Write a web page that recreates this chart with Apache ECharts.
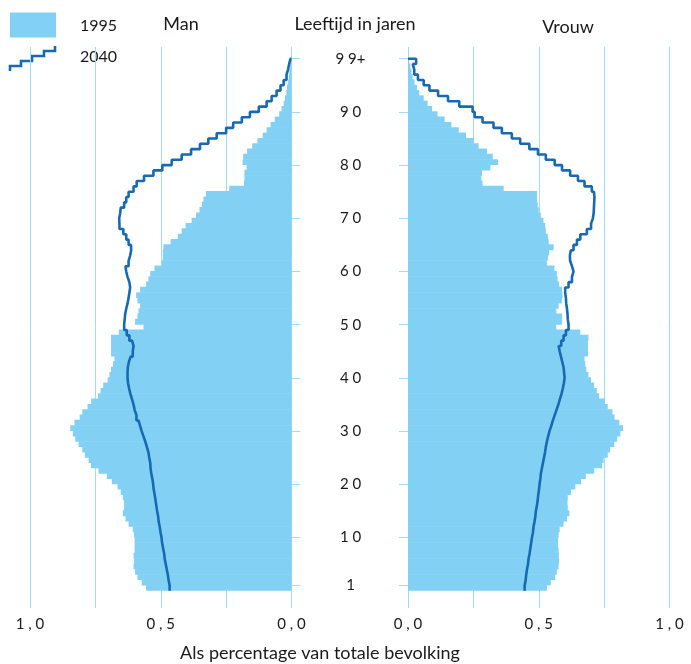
<!DOCTYPE html>
<html>
<head>
<meta charset="utf-8">
<script src="https://cdn.jsdelivr.net/npm/echarts@6/dist/echarts.min.js"></script>
<style>
html,body{margin:0;padding:0;background:#fff;}
#chart{width:691px;height:664px;}
</style>
</head>
<body>
<div id="chart"></div>
<script>
// Ages 0..99 (99 = 99+)
const ages = Array.from({length: 100}, (_, i) => i);

// Share of total population (%) per age, men, 1995
const man1995 = [
0.556,0.573,0.589,0.598,0.604,0.602,0.604,0.600,0.600,0.600,
0.602,0.607,0.623,0.635,0.645,0.640,0.640,0.645,0.653,0.665,
0.687,0.706,0.738,0.767,0.776,0.790,0.800,0.814,0.827,0.836,
0.846,0.830,0.810,0.800,0.780,0.766,0.740,0.730,0.720,0.703,
0.696,0.690,0.683,0.677,0.690,0.690,0.690,0.690,0.660,0.566,
0.598,0.589,0.585,0.579,0.589,0.594,0.579,0.556,0.547,0.540,
0.524,0.496,0.492,0.492,0.490,0.462,0.435,0.420,0.405,0.382,
0.365,0.352,0.343,0.337,0.327,0.238,0.182,0.180,0.180,0.172,
0.187,0.185,0.170,0.150,0.130,0.110,0.095,0.080,0.064,0.047,
0.038,0.030,0.025,0.020,0.017,0.013,0.010,0.008,0.005,0.003];

// men, 2040
const man2040 = [
0.466,0.470,0.473,0.477,0.481,0.485,0.487,0.491,0.495,0.497,
0.501,0.504,0.508,0.510,0.514,0.517,0.520,0.523,0.527,0.529,
0.532,0.536,0.539,0.540,0.544,0.547,0.553,0.559,0.566,0.573,
0.579,0.585,0.593,0.600,0.604,0.610,0.616,0.621,0.625,0.627,
0.627,0.626,0.622,0.615,0.607,0.604,0.610,0.620,0.630,0.640,
0.638,0.636,0.632,0.627,0.623,0.620,0.617,0.620,0.627,0.632,
0.635,0.623,0.617,0.613,0.614,0.623,0.632,0.643,0.658,0.659,
0.655,0.653,0.640,0.632,0.623,0.604,0.592,0.564,0.528,0.494,
0.458,0.420,0.384,0.350,0.318,0.286,0.250,0.223,0.190,0.159,
0.125,0.095,0.076,0.057,0.042,0.030,0.019,0.013,0.009,0.004];

// women, 1995
const vrouw1995 = [
0.531,0.546,0.563,0.569,0.576,0.578,0.577,0.576,0.574,0.574,
0.576,0.580,0.595,0.608,0.617,0.611,0.610,0.611,0.623,0.640,
0.662,0.680,0.712,0.742,0.748,0.764,0.773,0.789,0.800,0.812,
0.822,0.808,0.790,0.782,0.764,0.752,0.731,0.722,0.712,0.700,
0.690,0.682,0.678,0.675,0.688,0.688,0.688,0.690,0.659,0.567,
0.589,0.589,0.567,0.576,0.589,0.591,0.589,0.578,0.572,0.569,
0.560,0.531,0.535,0.540,0.557,0.538,0.535,0.527,0.525,0.518,
0.508,0.500,0.496,0.493,0.493,0.366,0.285,0.280,0.283,0.315,
0.344,0.324,0.302,0.270,0.251,0.222,0.194,0.166,0.140,0.113,
0.092,0.075,0.060,0.043,0.034,0.025,0.018,0.013,0.009,0.005];

// women, 2040
const vrouw2040 = [
0.446,0.450,0.452,0.455,0.459,0.461,0.465,0.468,0.471,0.474,
0.478,0.480,0.484,0.487,0.489,0.493,0.496,0.498,0.501,0.503,
0.506,0.508,0.512,0.516,0.520,0.524,0.527,0.531,0.536,0.541,
0.548,0.554,0.561,0.568,0.575,0.581,0.587,0.592,0.596,0.599,
0.597,0.595,0.590,0.585,0.580,0.576,0.586,0.595,0.604,0.614,
0.611,0.610,0.608,0.605,0.604,0.601,0.601,0.614,0.627,0.633,
0.627,0.620,0.619,0.623,0.633,0.646,0.659,0.684,0.700,0.707,
0.710,0.711,0.712,0.713,0.711,0.703,0.675,0.650,0.620,0.589,
0.561,0.527,0.497,0.464,0.429,0.397,0.359,0.327,0.285,0.255,
0.247,0.196,0.153,0.115,0.082,0.060,0.038,0.024,0.018,0.031];

// Axis ticks / labels
const ageTickValues = [1, 10, 20, 30, 40, 50, 60, 70, 80, 90, 100];
const ageTickLabels = {1:'1',10:'1 0',20:'2 0',30:'3 0',40:'4 0',50:'5 0',60:'6 0',70:'7 0',80:'8 0',90:'9 0',100:'9 9+'};
const pctLabels = {0:'0 , 0', 0.5:'0 , 5', 1:'1 , 0'};

const FILL = '#83d0f5';
const LINE = '#1769b1';
const GRIDC = '#a6dbf4';
const TXT = '#1a1a1a';
const FONT = 'Lato, "Open Sans", sans-serif';

function barData(vals) { return ages.map(a => [vals[a], a]); }
function stepData(vals) {
  const pts = [];
  ages.forEach(a => { pts.push([vals[a], a]); pts.push([vals[a], a + 1]); });
  pts.push([0, ages.length]);
  return pts;
}
function renderBar(params, api) {
  const v = api.value(0), a = api.value(1);
  const p0 = api.coord([0, a]);
  const p1 = api.coord([v, a + 1]);
  const top = a === ages.length - 1 ? p1[1] : p1[1] - 0.6;
  return {
    type: 'rect',
    shape: {x: Math.min(p0[0], p1[0]), y: top, width: Math.abs(p1[0] - p0[0]), height: p0[1] - top},
    style: {fill: FILL}
  };
}

const Y_MIN = -3.252, Y_MAX = 102.2;

function xAxisCfg(idx, inverse) {
  return {
    gridIndex: idx, type: 'value', min: 0, max: 1, interval: 0.25, inverse: inverse,
    axisLine: {show: false}, axisTick: {show: false},
    splitLine: {show: true, lineStyle: {color: GRIDC, width: 1}},
    axisLabel: {
      margin: 9, color: TXT, fontFamily: FONT, fontSize: 15,
      formatter: v => (pctLabels[v] !== undefined ? pctLabels[v] : '')
    }
  };
}
function yAxisCfg(idx, pos, showLabel) {
  return {
    gridIndex: idx, type: 'value', min: Y_MIN, max: Y_MAX, position: pos,
    axisLine: {show: false},
    splitLine: {show: false},
    axisTick: {show: true, length: 9, customValues: ageTickValues, lineStyle: {color: GRIDC, width: 1}},
    axisLabel: {
      show: showLabel, customValues: ageTickValues, align: 'center', margin: 59,
      color: TXT, fontFamily: FONT, fontSize: 15,
      formatter: v => ageTickLabels[v] || ''
    }
  };
}

const chart = echarts.init(document.getElementById('chart'), null, {renderer: 'canvas'});
chart.setOption({
  animation: false,
  backgroundColor: '#fff',
  grid: [
    {left: 30, right: 399.5, top: 47, bottom: 56},
    {left: 408, right: 21.5, top: 47, bottom: 56}
  ],
  xAxis: [xAxisCfg(0, true), xAxisCfg(1, false)],
  yAxis: [yAxisCfg(0, 'right', true), yAxisCfg(1, 'left', false)],
  series: [
    {name: '1995 Man', type: 'custom', xAxisIndex: 0, yAxisIndex: 0, renderItem: renderBar,
     encode: {x: 0, y: 1}, data: barData(man1995), z: 2},
    {name: '1995 Vrouw', type: 'custom', xAxisIndex: 1, yAxisIndex: 1, renderItem: renderBar,
     encode: {x: 0, y: 1}, data: barData(vrouw1995), z: 2},
    {name: '2040 Man', type: 'line', xAxisIndex: 0, yAxisIndex: 0, data: stepData(man2040),
     showSymbol: false, symbol: 'none', lineStyle: {color: LINE, width: 2.6}, z: 3, silent: true},
    {name: '2040 Vrouw', type: 'line', xAxisIndex: 1, yAxisIndex: 1, data: stepData(vrouw2040),
     showSymbol: false, symbol: 'none', lineStyle: {color: LINE, width: 2.6}, z: 3, silent: true}
  ],
  graphic: [
    {type: 'rect', left: 10, top: 12.5, shape: {width: 46, height: 25}, style: {fill: FILL}},
    {type: 'polyline', shape: {points: [[10,71],[10,66],[21,66],[21,61],[32,61],[32,56],[44,56],[44,51],[55,51],[55,46]]},
     style: {stroke: LINE, lineWidth: 2.6, fill: null}},
    {type: 'text', x: 80, y: 26, style: {text: '1995', font: '16px ' + FONT, fill: TXT, verticalAlign: 'middle'}},
    {type: 'text', x: 80, y: 57, style: {text: '2040', font: '16px ' + FONT, fill: TXT, verticalAlign: 'middle'}},
    {type: 'text', x: 181, y: 24, style: {text: 'Man', font: '18px ' + FONT, fill: TXT, align: 'center', verticalAlign: 'middle'}},
    {type: 'text', x: 355, y: 24, style: {text: 'Leeftijd in jaren', font: '18px ' + FONT, fill: TXT, align: 'center', verticalAlign: 'middle'}},
    {type: 'text', x: 568, y: 27, style: {text: 'Vrouw', font: '18px ' + FONT, fill: TXT, align: 'center', verticalAlign: 'middle'}},
    {type: 'text', x: 320, y: 653, style: {text: 'Als percentage van totale bevolking', font: '18px ' + FONT, fill: TXT, align: 'center', verticalAlign: 'middle'}}
  ]
});
</script>
</body>
</html>
